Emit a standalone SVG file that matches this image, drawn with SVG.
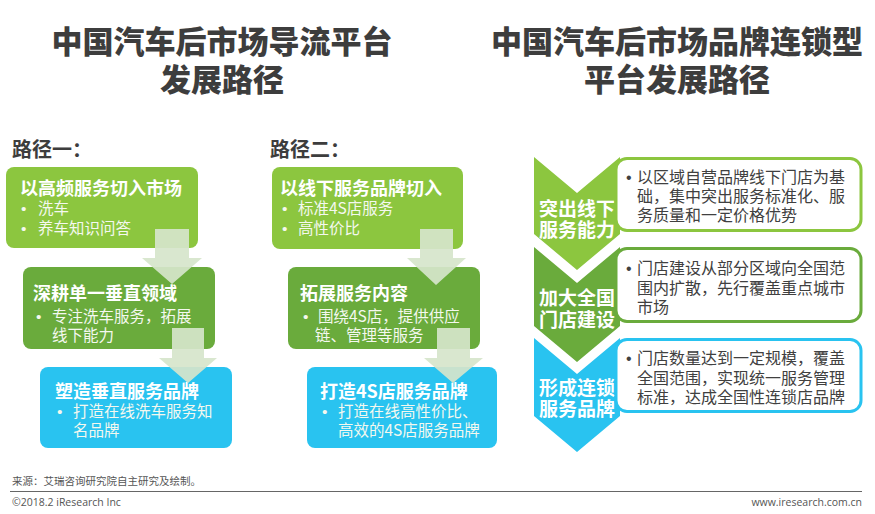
<svg xmlns="http://www.w3.org/2000/svg" width="875" height="514" viewBox="0 0 875 514">
<style>
text{font-family:"Noto Sans CJK SC","Microsoft YaHei",sans-serif;}
.title{font-size:31px;font-weight:900;fill:#3d3d3d;text-anchor:middle;}
.path{font-size:20px;font-weight:700;fill:#3d3d3d;}
.bt{font-size:18px;font-weight:700;fill:#ffffff;}
.bl{font-size:15.5px;fill:#f4f8ef;}
.ct{font-size:19px;font-weight:700;fill:#ffffff;}
.rt{font-size:16px;fill:#404040;}
.dot{font-family:"Liberation Sans",Arial,sans-serif;}
.arrow{fill:#d6e5cb;opacity:0.92;}
.foot{font-size:10.5px;fill:#555555;}
</style>
<rect width="875" height="514" fill="#ffffff"/>
<text class="title" x="222" y="53">中国汽车后市场导流平台<tspan x="222" dy="38">发展路径</tspan></text>
<text class="title" x="677" y="53">中国汽车后市场品牌连锁型<tspan x="677" dy="38">平台发展路径</tspan></text>
<text class="path" x="12" y="157">路径一：</text>
<text class="path" x="270" y="157">路径二：</text>

<g id="p1b1">
<rect x="6" y="167" width="192" height="81" rx="8" fill="#8cc63f"/>
<text class="bt" x="20" y="195">以高频服务切入市场</text>
<text class="bl dot" x="21" y="214">•<tspan x="21" dy="20">•</tspan></text>
<text class="bl" x="38" y="214">洗车<tspan x="38" dy="20">养车知识问答</tspan></text>
</g>
<g id="p1b2">
<rect x="23" y="267" width="192" height="82" rx="8" fill="#6aab3c"/>
<text class="bt" x="33" y="300">深耕单一垂直领域</text>
<text class="bl dot" x="36" y="322">•</text>
<text class="bl" x="52" y="322">专注洗车服务，拓展<tspan x="52" dy="19">线下能力</tspan></text>
</g>
<g id="p1b3">
<rect x="40" y="367" width="192" height="81" rx="8" fill="#29c3f0"/>
<text class="bt" x="55" y="398">塑造垂直服务品牌</text>
<text class="bl dot" x="57" y="417">•</text>
<text class="bl" x="73" y="417">打造在线洗车服务知<tspan x="73" dy="19">名品牌</tspan></text>
</g>

<g id="p2b1">
<rect x="272" y="167" width="191" height="82" rx="8" fill="#8cc63f"/>
<text class="bt" x="280" y="195">以线下服务品牌切入</text>
<text class="bl dot" x="282" y="214">•<tspan x="282" dy="20">•</tspan></text>
<text class="bl" x="298" y="214">标准4S店服务<tspan x="298" dy="20">高性价比</tspan></text>
</g>
<g id="p2b2">
<rect x="288" y="267" width="192" height="82" rx="8" fill="#6aab3c"/>
<text class="bt" x="300" y="300">拓展服务内容</text>
<text class="bl dot" x="303" y="322">•</text>
<text class="bl" x="318" y="322">围绕4S店，提供供应<tspan x="315" dy="19">链、管理等服务</tspan></text>
</g>
<g id="p2b3">
<rect x="307" y="367" width="190" height="81" rx="8" fill="#29c3f0"/>
<text class="bt" x="320" y="398">打造4S店服务品牌</text>
<text class="bl dot" x="322" y="417">•</text>
<text class="bl" x="338" y="417">打造在线高性价比、<tspan x="338" dy="19">高效的4S店服务品牌</tspan></text>
</g>

<g id="connectors">
<path class="arrow" d="M155,229 H189 V258 H202 L172,284 L142,258 H155 Z"/>
<path class="arrow" d="M172,328 H204 V358 H217 L188,383 L159,358 H172 Z"/>
<path class="arrow" d="M420,229 H453 V258 H466 L436,285 L407,258 H420 Z"/>
<path class="arrow" d="M437,328 H470 V358 H483 L453,383 L424,358 H437 Z"/>
</g>

<g id="c1">
<path d="M534,157 L577,193 L620,157 V234 L577,270 L534,234 Z" fill="#8cc63f"/>
<text class="ct" x="539" y="216">突出线下<tspan x="539" dy="21">服务能力</tspan></text>
</g>
<g id="c2">
<path d="M534,247 L577,283 L620,247 V326 L577,362 L534,326 Z" fill="#6aab3c"/>
<text class="ct" x="539" y="305">加大全国<tspan x="539" dy="22">门店建设</tspan></text>
</g>
<g id="c3">
<path d="M534,338 L577,374 L620,338 V416 L577,452 L534,416 Z" fill="#29c3f0"/>
<text class="ct" x="539" y="395">形成连锁<tspan x="539" dy="21">服务品牌</tspan></text>
</g>

<g id="r1">
<rect x="616" y="158.5" width="245" height="72" rx="11" fill="#ffffff" stroke="#8cc63f" stroke-width="3"/>
<text class="rt dot" x="626" y="183">•</text>
<text class="rt" x="637" y="183">以区域自营品牌线下门店为基<tspan x="637" dy="19">础，集中突出服务标准化、服</tspan><tspan x="637" dy="19">务质量和一定价格优势</tspan></text>
</g>
<g id="r2">
<rect x="616" y="248.5" width="245" height="73" rx="11" fill="#ffffff" stroke="#6aab3c" stroke-width="3"/>
<text class="rt dot" x="626" y="274">•</text>
<text class="rt" x="637" y="274">门店建设从部分区域向全国范<tspan x="637" dy="19.5">围内扩散，先行覆盖重点城市</tspan><tspan x="637" dy="19.5">市场</tspan></text>
</g>
<g id="r3">
<rect x="616" y="339.5" width="245" height="72" rx="11" fill="#ffffff" stroke="#29c3f0" stroke-width="3"/>
<text class="rt dot" x="626" y="364">•</text>
<text class="rt" x="637" y="364">门店数量达到一定规模，覆盖<tspan x="637" dy="19.5">全国范围，实现统一服务管理</tspan><tspan x="637" dy="19.5">标准，达成全国性连锁店品牌</tspan></text>
</g>

<text class="foot" x="12" y="485">来源：艾瑞咨询研究院自主研究及绘制。</text>
<line x1="10" y1="491.5" x2="862" y2="491.5" stroke="#666666" stroke-width="1"/>
<text class="foot" x="12" y="506" style="font-family:'Open Sans','Liberation Sans',sans-serif;">©2018.2 iResearch Inc</text>
<text class="foot" x="862" y="506" text-anchor="end" style="font-family:'Open Sans','Liberation Sans',sans-serif;">www.iresearch.com.cn</text>
</svg>
